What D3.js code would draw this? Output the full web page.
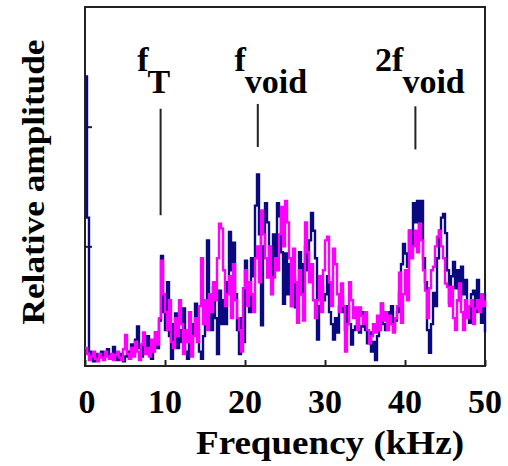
<!DOCTYPE html>
<html lang="en">
<head>
<meta charset="UTF-8">
<title>Relative amplitude spectrum</title>
<style>
    body { margin: 0; background: #fff; }
    .frame { fill: none; stroke: #222; stroke-width: 2px; }
    .tick line { stroke: #222; stroke-width: 2px; }
    .series { fill: none; stroke-width: 2.4px; }
    .marker { stroke: #222; stroke-width: 2px; }
</style>
</head>
<body>
<div id="chart"></div>
<script src="https://d3js.org/d3.v7.min.js"></script>
<script>
"use strict";

// spectrum sampled every 0.25 kHz, 0..50 kHz
const step = 0.25;

const navy = [
    2.42, 1.24, 0.12, 0.08, 0.04, 0.1, 0.05, 0.08, 0.12, 0.07, 0.1, 0.14, 0.06, 0.09, 0.16, 0.08, 0.05, 0.1, 0.07, 0.04,
    0.08, 0.12, 0.06, 0.18, 0.1, 0.22, 0.33, 0.15, 0.08, 0.2, 0.12, 0.25, 0.1, 0.06, 0.18, 0.28, 0.15, 0.38, 0.92, 0.45,
    0.3, 0.7, 0.25, 0.06, 0.35, 0.44, 0.15, 0.3, 0.2, 0.48, 0.12, 0.06, 0.2, 0.15, 0.35, 0.52, 0.3, 0.12, 0.06, 0.25,
    0.45, 1.05, 0.6, 0.3, 0.66, 0.4, 0.1, 0.63, 0.35, 0.55, 0.35, 0.7, 1.12, 0.8, 1.03, 0.6, 0.3, 0.1, 0.4, 0.2,
    0.88, 0.7, 0.45, 0.9, 0.75, 1.34, 1.6, 1.1, 0.34, 1.0, 1.36, 1.2, 0.9, 0.75, 1.1, 0.85, 1.36, 1.25, 0.95, 0.52,
    0.94, 0.6, 0.85, 0.5, 0.75, 0.49, 0.65, 0.95, 0.6, 0.85, 1.0, 0.8, 1.05, 1.28, 1.13, 0.9, 0.22, 0.5, 0.66, 0.55,
    0.6, 0.75, 0.45, 0.35, 0.22, 0.4, 0.28, 0.5, 0.58, 0.45, 0.3, 0.5, 0.35, 0.18, 0.3, 0.33, 0.4, 0.28, 0.33, 0.45,
    0.3, 0.19, 0.28, 0.12, 0.2, 0.05, 0.25, 0.4, 0.52, 0.35, 0.3, 0.45, 0.35, 0.5, 0.3, 0.38, 0.45, 0.61, 0.85, 1.02,
    0.94, 0.83, 1.13, 1.0, 1.36, 1.2, 1.38, 1.1, 1.38, 0.9, 0.7, 0.3, 0.11, 0.35, 0.61, 0.5, 0.9, 1.13, 1.24, 1.27,
    1.11, 0.8, 0.53, 0.75, 0.87, 0.65, 0.8, 0.55, 0.83, 0.6, 0.72, 0.45, 0.36, 0.6, 0.63, 0.45, 0.72, 0.5, 0.36, 0.6,
    0.28
];

const magenta = [
    0.15, 0.1, 0.05, 0.08, 0.12, 0.06, 0.04, 0.1, 0.07, 0.05, 0.12, 0.08, 0.06, 0.1, 0.05, 0.09, 0.12, 0.07, 0.05, 0.14,
    0.26, 0.1, 0.06, 0.15, 0.08, 0.2, 0.12, 0.05, 0.18, 0.28, 0.1, 0.15, 0.08, 0.22, 0.12, 0.28, 0.18, 0.4, 0.88, 0.6,
    0.45, 0.3, 0.55, 0.2, 0.15, 0.4, 0.25, 0.55, 0.35, 0.1, 0.3, 0.2, 0.45, 0.08, 0.25, 0.4, 0.2, 0.5, 0.9, 0.35,
    0.55, 0.3, 0.6, 0.45, 0.7, 0.55, 0.9, 1.19, 1.15, 0.8, 0.5, 0.6, 0.75, 0.4, 0.85, 0.55, 0.4, 0.3, 0.12, 0.65,
    0.8, 0.5, 0.7, 0.6, 0.45, 0.9, 1.0, 0.7, 1.3, 1.1, 0.9, 0.74, 1.0, 0.6, 0.74, 0.9, 0.8, 1.1, 1.33, 1.0,
    1.38, 1.2, 0.9, 0.5, 0.98, 0.7, 0.36, 0.8, 0.6, 0.38, 1.2, 0.95, 0.7, 0.85, 0.55, 0.4, 0.55, 0.75, 0.45, 0.8,
    1.05, 1.08, 0.7, 0.5, 0.98, 0.85, 0.6, 0.45, 0.69, 0.5, 0.12, 0.35, 0.7, 0.55, 0.4, 0.49, 0.3, 0.49, 0.42, 0.35,
    0.45, 0.3, 0.19, 0.25, 0.35, 0.28, 0.42, 0.3, 0.52, 0.38, 0.45, 0.3, 0.42, 0.35, 0.28, 0.4, 0.5, 0.78, 0.36, 0.6,
    0.8, 0.55, 1.13, 0.9, 1.0, 1.13, 0.95, 1.19, 1.05, 0.8, 0.63, 0.4, 0.65, 0.8, 0.83, 1.0, 1.08, 1.13, 1.0, 0.9,
    0.69, 0.66, 0.5, 0.66, 0.4, 0.3, 0.55, 0.69, 0.45, 0.3, 0.55, 0.4, 0.5, 0.55, 0.35, 0.48, 0.55, 0.45, 0.6, 0.5,
    0.55
];

const xTicks = [0, 10, 20, 30, 40, 50];
const yTicks = [1, 2];

// marker lines: frequency, top and bottom (amplitude units), label parts
const markerFreq = [9.45, 21.6, 41.3];
const markerTop = [2.15, 2.19, 2.17];
const markerBottom = [1.26, 1.83, 1.81];
const markerMain = ["f", "f", "2f"];
const markerSub = ["T", "void", "void"];

const serif = "'Liberation Serif', 'DejaVu Serif', serif";

const width = 508, height = 466;
const margin = { top: 7, right: 22, bottom: 100, left: 85 };

const svg = d3.select("#chart").append("svg")
    .attr("width", width)
    .attr("height", height);

const x = d3.scaleLinear().domain([0, 50]).range([margin.left, width - margin.right - 1]);
const y = d3.scaleLinear().domain([0, 3]).range([height - margin.bottom, margin.top]);

function label(sel, size) {
    return sel.attr("font-family", serif)
        .attr("font-weight", "bold")
        .attr("font-size", size)
        .attr("fill", "#000");
}

// plot frame
svg.append("rect")
    .attr("class", "frame")
    .attr("x", x(0)).attr("y", y(3))
    .attr("width", x(50) - x(0))
    .attr("height", y(0) - y(3));

// ticks point inward
const xAxis = svg.append("g")
    .attr("transform", "translate(0," + y(0) + ")")
    .call(d3.axisBottom(x).tickValues(xTicks).tickSize(-6).tickFormat(""));
xAxis.select(".domain").remove();

const yAxis = svg.append("g")
    .attr("transform", "translate(" + x(0) + ",0)")
    .call(d3.axisLeft(y).tickValues(yTicks).tickSize(-7).tickFormat(""));
yAxis.select(".domain").remove();

// tick labels
svg.selectAll(".xlabel")
    .data(xTicks)
    .enter().append("text")
    .attr("class", "xlabel")
    .attr("x", function (d) { return x(d) + (d === 0 ? 2 : 0); })
    .attr("y", 413)
    .attr("text-anchor", "middle")
    .call(label, 34)
    .text(function (d) { return d; });

svg.append("text")
    .attr("x", 330)
    .attr("y", 454)
    .attr("text-anchor", "middle")
    .attr("textLength", 268)
    .attr("lengthAdjust", "spacingAndGlyphs")
    .call(label, 33)
    .text("Frequency (kHz)");

svg.append("text")
    .attr("transform", "translate(44,182) rotate(-90)")
    .attr("text-anchor", "middle")
    .attr("textLength", 285)
    .attr("lengthAdjust", "spacingAndGlyphs")
    .call(label, 31)
    .text("Relative amplitude");

// spectra
const line = d3.line()
    .x(function (d, i) { return x(i * step); })
    .y(function (d) { return y(d); })
    .curve(d3.curveStepAfter);

svg.append("path")
    .datum(navy)
    .attr("class", "series")
    .attr("stroke", "#0a0a80")
    .attr("d", line);

svg.append("path")
    .datum(magenta)
    .attr("class", "series")
    .attr("stroke", "#ff00ff")
    .attr("d", line);

// marker lines and labels: subscript starts just left of the line
markerFreq.forEach(function (f, i) {
    const mx = x(f);
    svg.append("line")
        .attr("class", "marker")
        .attr("x1", mx).attr("x2", mx)
        .attr("y1", y(markerTop[i])).attr("y2", y(markerBottom[i]));

    svg.append("text")
        .attr("x", mx - 12)
        .attr("y", 71)
        .attr("text-anchor", "end")
        .call(label, 34)
        .text(markerMain[i]);

    svg.append("text")
        .attr("x", mx - 13)
        .attr("y", 93)
        .attr("text-anchor", "start")
        .call(label, 34)
        .text(markerSub[i]);
});
</script>
</body>
</html>
